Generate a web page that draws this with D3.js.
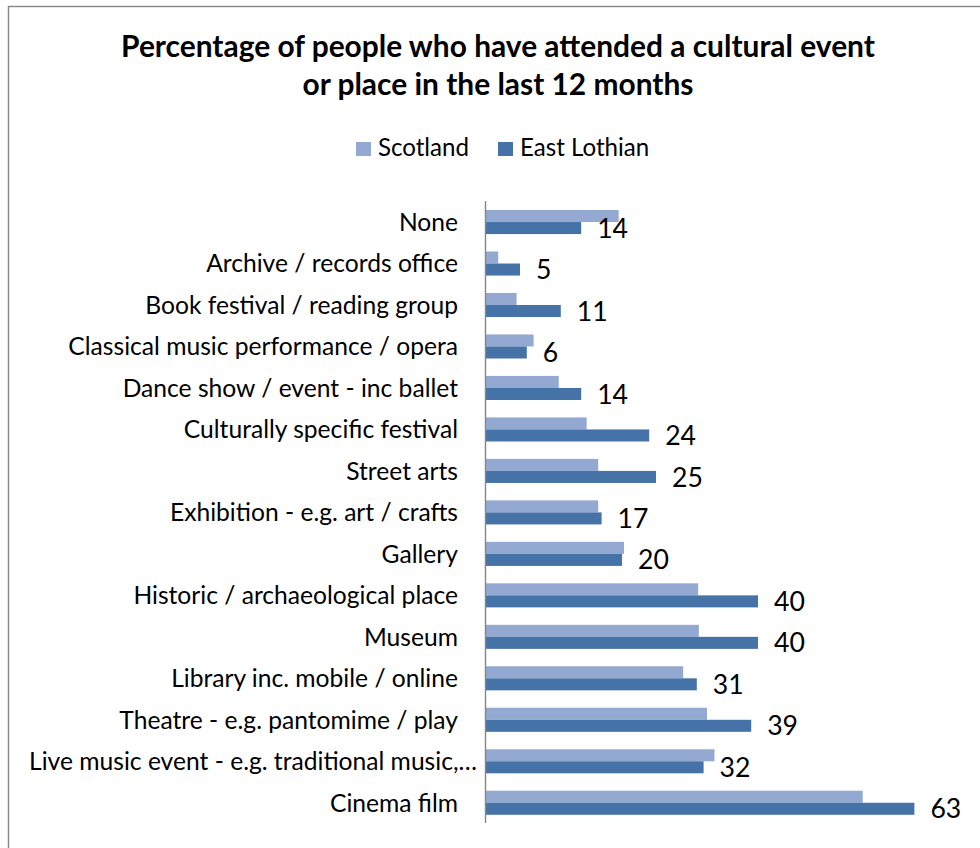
<!DOCTYPE html>
<html>
<head>
<meta charset="utf-8">
<script src="https://cdn.jsdelivr.net/npm/d3@7"></script>
<style>
  html, body { margin: 0; padding: 0; background: #fff; }
  svg { display: block; }
  text { font-family: Lato, "Open Sans", "Liberation Sans", sans-serif; fill: #000; }
</style>
</head>
<body>
<svg id="chart" width="980" height="848"></svg>
<script>
const categories = [
  "None",
  "Archive / records office",
  "Book festival / reading group",
  "Classical music performance / opera",
  "Dance show / event - inc ballet",
  "Culturally specific festival",
  "Street arts",
  "Exhibition - e.g. art / crafts",
  "Gallery",
  "Historic / archaeological place",
  "Museum",
  "Library inc. mobile / online",
  "Theatre - e.g. pantomime / play",
  "Live music event - e.g. traditional music,…",
  "Cinema film"
];
const seriesNames = ["Scotland", "East Lothian"];
const scotland = [19.5, 1.8, 4.5, 7, 10.7, 14.8, 16.5, 16.5, 20.3, 31.2, 31.3, 29, 32.5, 33.6, 55.4];
const eastLothian = [14, 5, 11, 6, 14, 24, 25, 17, 20, 40, 40, 31, 39, 32, 63];
const titleLines = ["Percentage of people who have attended a cultural event", "or place in the last 12 months"];
const colors = ["#94A9D1", "#4673A7"];

const svg = d3.select("#chart");

// frame
svg.append("rect").attr("x", 8.5).attr("y", 6.5).attr("width", 1000).attr("height", 900)
  .attr("fill", "#fff").attr("stroke", "#868686").attr("stroke-width", 1.4);

function fitWidth(sel, target) {
  sel.each(function() {
    const base = parseFloat(d3.select(this).attr("font-size"));
    const w = this.getComputedTextLength();
    d3.select(this).attr("font-size", base * target / w);
  });
}

// title
const t1 = svg.append("text").attr("x", 498).attr("y", 57).attr("text-anchor", "middle")
  .attr("font-weight", "bold").attr("font-size", 28).text(titleLines[0]);
fitWidth(t1, 754);
const titleSize = +t1.attr("font-size");
svg.append("text").attr("x", 498).attr("y", 95).attr("text-anchor", "middle")
  .attr("font-weight", "bold").attr("font-size", titleSize).text(titleLines[1]);

// scales
const x = d3.scaleLinear().domain([0, 70]).range([486, 962]);
const y = d3.scaleBand().domain(categories).range([201.3, 823.5]).paddingInner(0.42).paddingOuter(0.21);
const ySub = d3.scaleBand().domain(seriesNames).range([0, y.bandwidth()]);

// legend
const legendX = [356, 498];
const lg = svg.append("g");
seriesNames.forEach((s, i) => {
  lg.append("rect").attr("x", legendX[i]).attr("y", 142).attr("width", 15).attr("height", 14).attr("fill", colors[i]);
});
const lt0 = lg.append("text").attr("x", legendX[0] + 22).attr("y", 156).attr("font-size", 22).text(seriesNames[0]);
fitWidth(lt0, 91);
const legendSize = +lt0.attr("font-size");
lg.append("text").attr("x", legendX[1] + 22).attr("y", 156).attr("font-size", legendSize).text(seriesNames[1]);

// bars
const data = categories.map((c, i) => ({ cat: c, vals: [scotland[i], eastLothian[i]] }));
const groups = svg.append("g").selectAll("g").data(data).join("g")
  .attr("transform", d => `translate(0,${y(d.cat)})`);
groups.selectAll("rect").data(d => d.vals.map((v, i) => ({ v, s: seriesNames[i], i })))
  .join("rect")
  .attr("x", x(0))
  .attr("y", d => ySub(d.s))
  .attr("width", d => x(d.v) - x(0))
  .attr("height", ySub.bandwidth())
  .attr("fill", d => colors[d.i]);

// category labels
const probe = svg.append("text").attr("font-size", 20).text(categories[3]);
fitWidth(probe, 390);
const catSize = +probe.attr("font-size");
probe.remove();
svg.append("g").selectAll("text").data(categories).join("text")
  .attr("x", d => d.endsWith("…") ? 477 : 458)
  .attr("y", d => y(d) + y.bandwidth() / 2)
  .attr("dy", "0.36em")
  .attr("text-anchor", "end")
  .attr("font-size", catSize)
  .text(d => d);

// data labels (East Lothian)
const dataSize = catSize * 1.08;
svg.append("g").selectAll("text").data(data).join("text")
  .attr("x", d => x(d.vals[1]) + 16)
  .attr("y", d => y(d.cat) + ySub(seriesNames[1]) + ySub.bandwidth() / 2)
  .attr("dy", "0.36em")
  .attr("font-size", dataSize)
  .text(d => d3.format("d")(d.vals[1]));

// vertical category axis line
svg.append("line").attr("x1", 485.5).attr("x2", 485.5).attr("y1", 201).attr("y2", 823)
  .attr("stroke", "#868686").attr("stroke-width", 1.4);
</script>
</body>
</html>
